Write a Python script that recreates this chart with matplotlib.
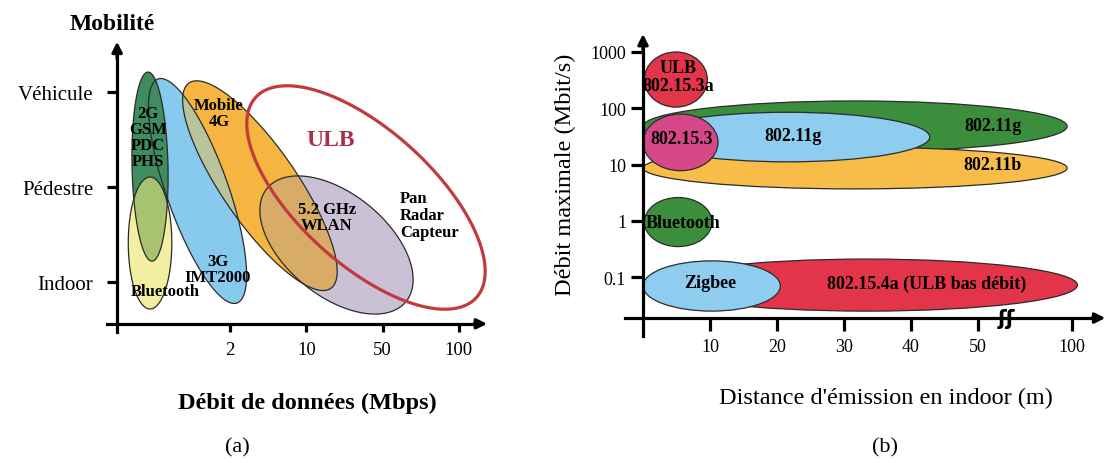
import numpy as np
import matplotlib.pyplot as plt
from matplotlib.patches import Ellipse, Polygon

plt.rcParams['font.family'] = ['Liberation Serif', 'DejaVu Serif']

# =====================================================
# DATA
# =====================================================

# (a) mobility vs data rate ; rate axis positions 1..4 = 2, 10, 50, 100 Mbps
rate_ticks = [1, 2, 3, 4]
rate_labels = ["2", "10", "50", "100"]
mob_ticks = [1, 2, 3]
mob_labels = ["Indoor", "Pédestre", "Véhicule"]

# long axis of each ellipse: (rate position, mobility level) start -> end
tech_a = ["2G", "Bluetooth", "3G", "4G", "WLAN", "ULB"]
rate_start = [-0.075, -0.048, 0.056, 0.463, 1.485, 1.336]
rate_end = [-0.022, -0.048, 1.092, 2.321, 3.307, 4.229]
mob_start = [3.21, 2.105, 3.137, 3.095, 1.985, 2.943]
mob_end = [1.22, 0.716, 0.779, 0.933, 0.794, 0.836]
axis_ratio = [0.19, 0.33, 0.26, 0.30, 0.57, 0.45]

# (b) max rate (Mbit/s) vs indoor range (m)
dist_ticks = [10, 20, 30, 40, 50, 100]
rate_b_ticks = [0.1, 1, 10, 100, 1000]
tech_b = ["802.11g", "802.11b", "802.11g (b)", "802.15.3", "ULB 802.15.3a",
          "Bluetooth", "802.15.4a", "Zigbee"]
dist_min = [0, 0, 0.3, 0, 0.2, 0.2, 2, 0]
dist_max = [97.5, 97.5, 42.8, 11.2, 9.6, 10.3, 103, 20.5]
rate_min = [17, 3.7, 11.2, 7.8, 105, 0.35, 0.025, 0.025]
rate_max = [135, 20.4, 85, 79, 1000, 2.6, 0.21, 0.195]

# =====================================================
# STYLE
# =====================================================

W, H = 1107, 464
fig = plt.figure(figsize=(W / 100, H / 100), dpi=100)


def px_rect(x0, y0, x1, y1):
    return [x0 / W, 1 - y1 / H, (x1 - x0) / W, (y1 - y0) / H]


def dist_pos(d):
    d = np.asarray(d, dtype=float)
    return np.where(d <= 50, d, 50 + (d - 50) * 14 / 50)


def tilted(ax, p0, p1, ratio, **kw):
    d0, d1 = ax.transData.transform([p0, p1])
    c = (d0 + d1) / 2
    v = (d1 - d0) / 2
    a = np.hypot(*v)
    u = v / a
    n = np.array([-u[1], u[0]])
    t = np.linspace(0, 2 * np.pi, 240)
    pts = c + np.outer(np.cos(t), a * u) + np.outer(np.sin(t), a * ratio * n)
    poly = Polygon(ax.transData.inverted().transform(pts), closed=True, **kw)
    ax.add_patch(poly)
    return poly


# =====================================================
# (a)
# =====================================================

axa = fig.add_axes(px_rect(100, 40, 500, 340))
axa.set_xlim(-0.704, 4.539)
axa.set_ylim(0.4, 3.558)
axa.patch.set_visible(False)

fill_a = ["#3e8c5f", "#f2eea2", "#88c9ee", "#f5b540", "#cac1d7", "none"]
z_a = [4, 3.5, 1, 2, 3, 8]

polys = {}
for i, name in enumerate(tech_a):
    p0 = (rate_start[i], mob_start[i])
    p1 = (rate_end[i], mob_end[i])
    polys[name] = tilted(axa, p0, p1, axis_ratio[i], fc=fill_a[i],
                         ec="none", zorder=z_a[i])

for a, b, col in [("2G", "Bluetooth", "#a7c36f"),
                  ("3G", "4G", "#b8c49c"),
                  ("4G", "WLAN", "#d8ab66")]:
    i = tech_a.index(a)
    ov = tilted(axa, (rate_start[i], mob_start[i]), (rate_end[i], mob_end[i]),
                axis_ratio[i], fc=col, ec="none", zorder=5)
    ov.set_clip_path(polys[b])

for i, name in enumerate(tech_a):
    if name == "ULB":
        tilted(axa, (rate_start[i], mob_start[i]), (rate_end[i], mob_end[i]),
               axis_ratio[i], fc="none", ec="#c23a3e", lw=2.3, zorder=8)
    else:
        tilted(axa, (rate_start[i], mob_start[i]), (rate_end[i], mob_end[i]),
               axis_ratio[i], fc="none", ec="#2b2b2b", lw=0.9, zorder=6)

lab_kw = dict(fontsize=12, fontweight="bold", ha="center", va="center",
              linespacing=1.0, zorder=9)
axa.text(-0.075, 2.526, "2G\nGSM\nPDC\nPHS", **lab_kw)
axa.text(0.856, 2.779, "Mobile\n4G", **lab_kw)
axa.text(2.271, 1.684, "5.2 GHz\nWLAN", **lab_kw)
axa.text(0.843, 1.137, "3G\nIMT2000", **lab_kw)
axa.text(0.148, 0.905, "Bluetooth", **lab_kw)
axa.text(3.228, 1.705, "Pan\nRadar\nCapteur", fontsize=12, fontweight="bold",
         ha="left", va="center", linespacing=1.05, zorder=9)
axa.text(2.324, 2.505, "ULB", fontsize=17, fontweight="bold",
         color="#a8304a", ha="center", va="center", zorder=9)

for s in ["top", "right"]:
    axa.spines[s].set_visible(False)
axa.spines["left"].set_position(("data", -0.48))
axa.spines["left"].set_bounds(0.474, 3.45)
axa.spines["bottom"].set_position(("data", 0.56))
axa.spines["bottom"].set_bounds(-0.61, 4.28)
for s in ["left", "bottom"]:
    axa.spines[s].set_linewidth(2.3)
    axa.spines[s].set_zorder(10)

axa.annotate("", xy=(-0.48, 3.53), xytext=(-0.48, 3.35),
             arrowprops=dict(arrowstyle="-|>", lw=2.3, color="k",
                             mutation_scale=15, shrinkA=0, shrinkB=0))
axa.annotate("", xy=(4.37, 0.56), xytext=(4.2, 0.56),
             arrowprops=dict(arrowstyle="-|>", lw=2.3, color="k",
                             mutation_scale=15, shrinkA=0, shrinkB=0))

axa.set_xticks(rate_ticks, rate_labels)
axa.set_yticks(mob_ticks, mob_labels)
axa.tick_params(axis="x", direction="out", length=6, width=2.3,
                labelsize=13.5, pad=6.5)
axa.tick_params(axis="y", direction="out", length=7.2, width=2.3,
                labelsize=15, pad=10)

fig.text(112 / W, 1 - 25 / H, "Mobilité", fontsize=17, fontweight="bold",
         ha="center", va="center")
fig.text(307 / W, 1 - 403 / H, "Débit de données (Mbps)", fontsize=17.5,
         fontweight="bold", ha="center", va="center")
fig.text(237 / W, 1 - 448 / H, "(a)", fontsize=16, ha="center", va="center")

# =====================================================
# (b)
# =====================================================

axb = fig.add_axes(px_rect(600, 25, 1107, 345))
axb.set_xlim(-6.42, 69.25)
axb.set_ylim(-2.186, 3.497)
axb.patch.set_visible(False)

fill_b = ["#3b8e3b", "#f8bd48", "#8fcdf0", "#d6478a", "#e33549",
          "#3b8e3b", "#e33549", "#8fcdf0"]

for i, name in enumerate(tech_b):
    x0, x1 = dist_pos(dist_min[i]), dist_pos(dist_max[i])
    y0, y1 = np.log10(rate_min[i]), np.log10(rate_max[i])
    axb.add_patch(Ellipse(((x0 + x1) / 2, (y0 + y1) / 2), x1 - x0, y1 - y0,
                          fc=fill_b[i], ec="#2b2b2b", lw=0.9, zorder=1 + i * 0.1))

lab_b = dict(fontsize=13, fontweight="bold", ha="center", va="center", zorder=9)
axb.text(5.2, 2.565, "ULB\n802.15.3a", linespacing=1.05, **lab_b)
axb.text(52.2, 1.686, "802.11g", **lab_b)
axb.text(22.4, 1.508, "802.11g", **lab_b)
axb.text(5.8, 1.455, "802.15.3", **lab_b)
axb.text(52.1, 1.01, "802.11b", **lab_b)
axb.text(6.0, -0.02, "Bluetooth", **lab_b)
axb.text(10.0, -1.1, "Zigbee", **lab_b)
axb.text(42.4, -1.1, "802.15.4a (ULB bas débit)", **lab_b)

for s in ["top", "right"]:
    axb.spines[s].set_visible(False)
axb.spines["left"].set_position(("data", 0))
axb.spines["left"].set_bounds(-2.044, 3.15)
axb.spines["bottom"].set_position(("data", -1.725))
axb.spines["bottom"].set_bounds(-2.69, 67.5)
for s in ["left", "bottom"]:
    axb.spines[s].set_linewidth(2.3)
    axb.spines[s].set_zorder(10)

axb.annotate("", xy=(0, 3.32), xytext=(0, 3.0),
             arrowprops=dict(arrowstyle="-|>", lw=2.3, color="k",
                             mutation_scale=15, shrinkA=0, shrinkB=0))
axb.annotate("", xy=(69.0, -1.725), xytext=(67.0, -1.725),
             arrowprops=dict(arrowstyle="-|>", lw=2.3, color="k",
                             mutation_scale=15, shrinkA=0, shrinkB=0))
axb.text(54.3, -1.725, "ʃʃ", fontsize=15, fontweight="bold",
         family="DejaVu Sans", ha="center", va="center", zorder=11)

axb.set_xticks(dist_pos(dist_ticks), [str(d) for d in dist_ticks])
axb.set_yticks(np.log10(rate_b_ticks), ["0.1", "1", "10", "100", "1000"])
axb.tick_params(axis="x", direction="out", length=9.4, width=2.3,
                labelsize=13, pad=5)
axb.tick_params(axis="y", direction="out", length=8.6, width=2.3,
                labelsize=13, pad=3.6)

fig.text(565 / W, 1 - 175 / H, "Débit maximale (Mbit/s)", fontsize=17.5,
         rotation=90, ha="center", va="center")
fig.text(885.5 / W, 1 - 398 / H, "Distance d'émission en indoor (m)",
         fontsize=17.5, ha="center", va="center")
fig.text(885 / W, 1 - 448 / H, "(b)", fontsize=16, ha="center", va="center")

fig.savefig("out.png", dpi=100)
